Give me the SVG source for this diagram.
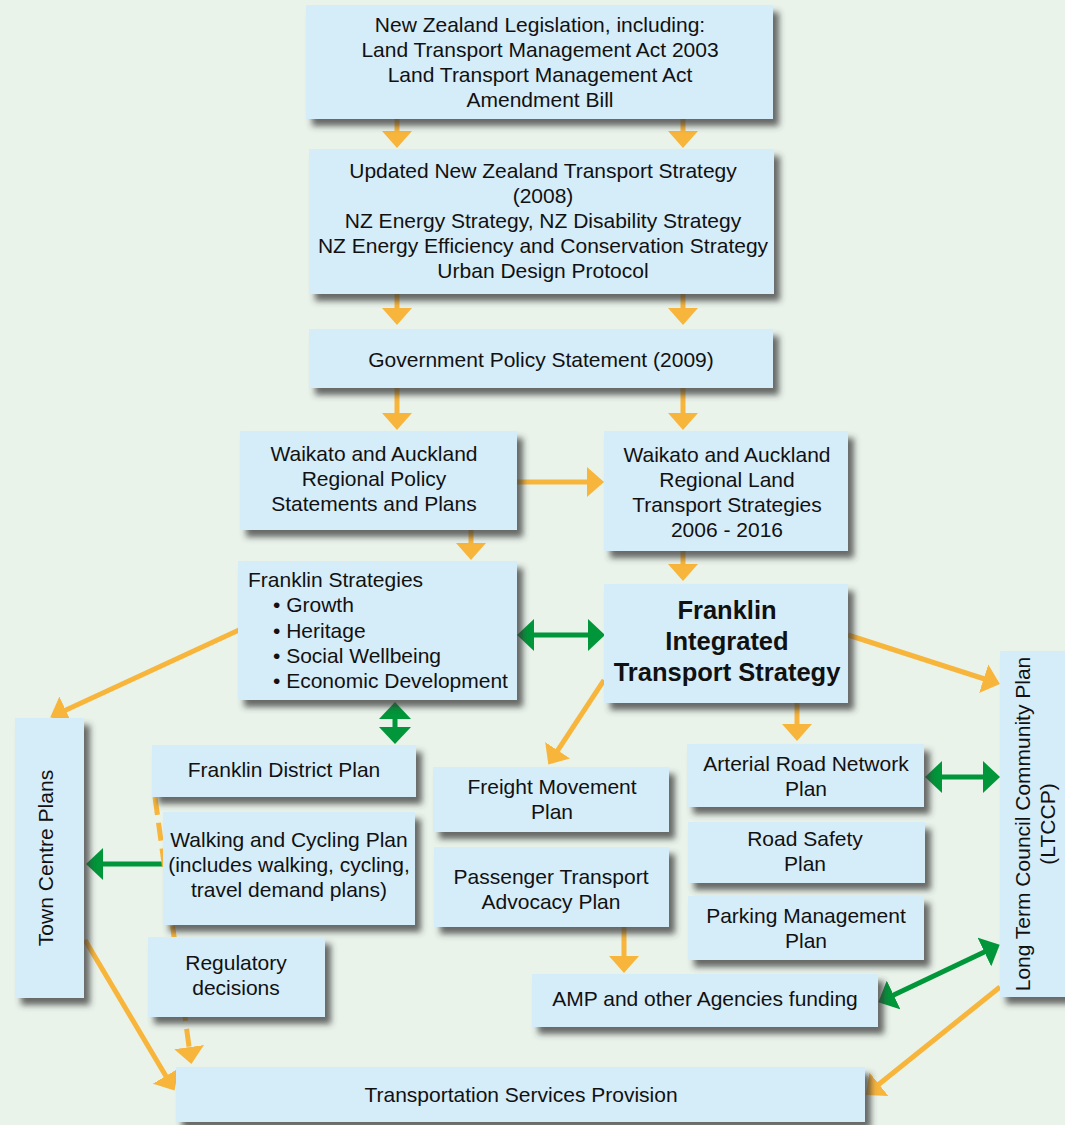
<svg xmlns="http://www.w3.org/2000/svg" width="1065" height="1125" viewBox="0 0 1065 1125">
<defs>
<filter id="sh" x="-10%" y="-10%" width="130%" height="140%">
<feDropShadow dx="6" dy="7" stdDeviation="3" flood-color="#3a3a3a" flood-opacity="0.75"/>
</filter>
<marker id="ao" markerUnits="userSpaceOnUse" markerWidth="17" markerHeight="30" viewBox="0 0 17 30" refX="14" refY="15" orient="auto">
<path d="M0,0 L17,15 L0,30 Z" fill="#F8B53C"/>
</marker>
<marker id="ag" markerUnits="userSpaceOnUse" markerWidth="17" markerHeight="32" viewBox="0 0 17 32" refX="14" refY="16" orient="auto-start-reverse">
<path d="M0,0 L17,16 L0,32 Z" fill="#009639"/>
</marker>
<style>
.bx{fill:#D5ECF9;filter:url(#sh)}
.t{font-family:"Liberation Sans",Arial,sans-serif;font-size:21px;fill:#111;text-anchor:middle}
.tl{font-family:"Liberation Sans",Arial,sans-serif;font-size:21px;fill:#111}
.tb{font-family:"Liberation Sans",Arial,sans-serif;font-size:25.5px;font-weight:bold;fill:#111;text-anchor:middle}
.o{stroke:#F8B53C;stroke-width:5;fill:none;marker-end:url(#ao)}
.od{stroke:#F8B53C;stroke-width:5;fill:none;stroke-dasharray:18 8;marker-end:url(#ao)}
.g{stroke:#009639;stroke-width:5;fill:none;marker-end:url(#ag)}
.g2{stroke:#009639;stroke-width:5;fill:none;marker-start:url(#ag);marker-end:url(#ag)}
</style>
</defs>
<rect width="1065" height="1125" fill="#E9F3EA"/>

<g id="connectors">
<line class="o" x1="397" y1="119" x2="397" y2="145"/>
<line class="o" x1="683" y1="119" x2="683" y2="145"/>
<line class="o" x1="397" y1="294" x2="397" y2="322"/>
<line class="o" x1="683" y1="294" x2="683" y2="322"/>
<line class="o" x1="397" y1="388" x2="397" y2="427"/>
<line class="o" x1="683" y1="388" x2="683" y2="427"/>
<line class="o" x1="517" y1="482" x2="601" y2="482"/>
<line class="o" x1="471" y1="530" x2="471" y2="557"/>
<line class="o" x1="683" y1="551" x2="683" y2="578"/>
<line class="g2" x1="520" y1="635" x2="602" y2="635"/>
<line class="g2" x1="395" y1="705" x2="395" y2="741"/>
<line class="o" x1="239" y1="630" x2="53" y2="716"/>
<line class="o" x1="848" y1="635" x2="997" y2="683"/>
<line class="o" x1="604" y1="680" x2="550" y2="762"/>
<line class="o" x1="797" y1="703" x2="797" y2="738"/>
<line class="g2" x1="928" y1="777" x2="997" y2="777"/>
<line class="g" x1="163" y1="864" x2="89" y2="864"/>
<line class="od" x1="155" y1="797" x2="191" y2="1061"/>
<line class="o" x1="624" y1="927" x2="624" y2="970"/>
<line class="g2" x1="881" y1="1001" x2="997" y2="946"/>
<line class="o" x1="85" y1="940" x2="173" y2="1088"/>
<line class="o" x1="1000" y1="987" x2="868" y2="1093"/>
</g>

<g id="legislation">
<rect class="bx" x="306" y="5" width="467" height="114"/>
<text class="t" x="540" y="32">New Zealand Legislation, including:</text>
<text class="t" x="540" y="57">Land Transport Management Act 2003</text>
<text class="t" x="540" y="82">Land Transport Management Act</text>
<text class="t" x="540" y="107">Amendment Bill</text>
</g>
<g id="nzts">
<rect class="bx" x="309" y="149" width="465" height="145"/>
<text class="t" x="543" y="178">Updated New Zealand Transport Strategy</text>
<text class="t" x="543" y="203">(2008)</text>
<text class="t" x="543" y="228">NZ Energy Strategy, NZ Disability Strategy</text>
<text class="t" x="543" y="253">NZ Energy Efficiency and Conservation Strategy</text>
<text class="t" x="543" y="278">Urban Design Protocol</text>
</g>
<g id="gps">
<rect class="bx" x="309" y="329" width="464" height="59"/>
<text class="t" x="541" y="367">Government Policy Statement (2009)</text>
</g>
<g id="rps">
<rect class="bx" x="240" y="431" width="277" height="99"/>
<text class="t" x="374" y="461">Waikato and Auckland</text>
<text class="t" x="374" y="486">Regional Policy</text>
<text class="t" x="374" y="511">Statements and Plans</text>
</g>
<g id="rlts">
<rect class="bx" x="604" y="431" width="244" height="120"/>
<text class="t" x="727" y="462">Waikato and Auckland</text>
<text class="t" x="727" y="487">Regional Land</text>
<text class="t" x="727" y="512">Transport Strategies</text>
<text class="t" x="727" y="537">2006 - 2016</text>
</g>
<g id="franklin-strategies">
<rect class="bx" x="238" y="561" width="279" height="139"/>
<text class="tl" x="248" y="587">Franklin Strategies</text>
<text class="tl" x="273" y="612">• Growth</text>
<text class="tl" x="273" y="638">• Heritage</text>
<text class="tl" x="273" y="663">• Social Wellbeing</text>
<text class="tl" x="273" y="688">• Economic Development</text>
</g>
<g id="fits">
<rect class="bx" x="604" y="584" width="244" height="119"/>
<text class="tb" x="727" y="619">Franklin</text>
<text class="tb" x="727" y="650">Integrated</text>
<text class="tb" x="727" y="681">Transport Strategy</text>
</g>
<g id="town-centre">
<rect class="bx" x="15" y="718" width="69" height="280"/>
<text class="t" transform="translate(53,858) rotate(-90)">Town Centre Plans</text>
</g>
<g id="district-plan">
<rect class="bx" x="152" y="745" width="264" height="52"/>
<text class="t" x="284" y="777">Franklin District Plan</text>
</g>
<g id="walking">
<rect class="bx" x="163" y="812" width="252" height="113"/>
<text class="t" x="289" y="847">Walking and Cycling Plan</text>
<text class="t" x="289" y="872">(includes walking, cycling,</text>
<text class="t" x="289" y="897">travel demand plans)</text>
</g>
<g id="regulatory">
<rect class="bx" x="148" y="937" width="177" height="80"/>
<text class="t" x="236" y="970">Regulatory</text>
<text class="t" x="236" y="995">decisions</text>
</g>
<g id="freight">
<rect class="bx" x="433" y="767" width="236" height="65"/>
<text class="t" x="552" y="794">Freight Movement</text>
<text class="t" x="552" y="819">Plan</text>
</g>
<g id="passenger">
<rect class="bx" x="434" y="847" width="235" height="80"/>
<text class="t" x="551" y="884">Passenger Transport</text>
<text class="t" x="551" y="909">Advocacy Plan</text>
</g>
<g id="arterial">
<rect class="bx" x="687" y="744" width="237" height="63"/>
<text class="t" x="806" y="771">Arterial Road Network</text>
<text class="t" x="806" y="796">Plan</text>
</g>
<g id="road-safety">
<rect class="bx" x="688" y="822" width="237" height="61"/>
<text class="t" x="805" y="846">Road Safety</text>
<text class="t" x="805" y="871">Plan</text>
</g>
<g id="parking">
<rect class="bx" x="688" y="896" width="236" height="64"/>
<text class="t" x="806" y="923">Parking Management</text>
<text class="t" x="806" y="948">Plan</text>
</g>
<g id="amp">
<rect class="bx" x="532" y="974" width="346" height="53"/>
<text class="t" x="705" y="1006">AMP and other Agencies funding</text>
</g>
<g id="ltccp">
<rect class="bx" x="1000" y="651" width="70" height="346"/>
<text class="t" transform="translate(1030,824) rotate(-90)">Long Term Council Community Plan</text>
<text class="t" transform="translate(1055,824) rotate(-90)">(LTCCP)</text>
</g>
<g id="transport-services">
<rect class="bx" x="176" y="1067" width="689" height="55"/>
<text class="t" x="521" y="1102">Transportation Services Provision</text>
</g>
</svg>
